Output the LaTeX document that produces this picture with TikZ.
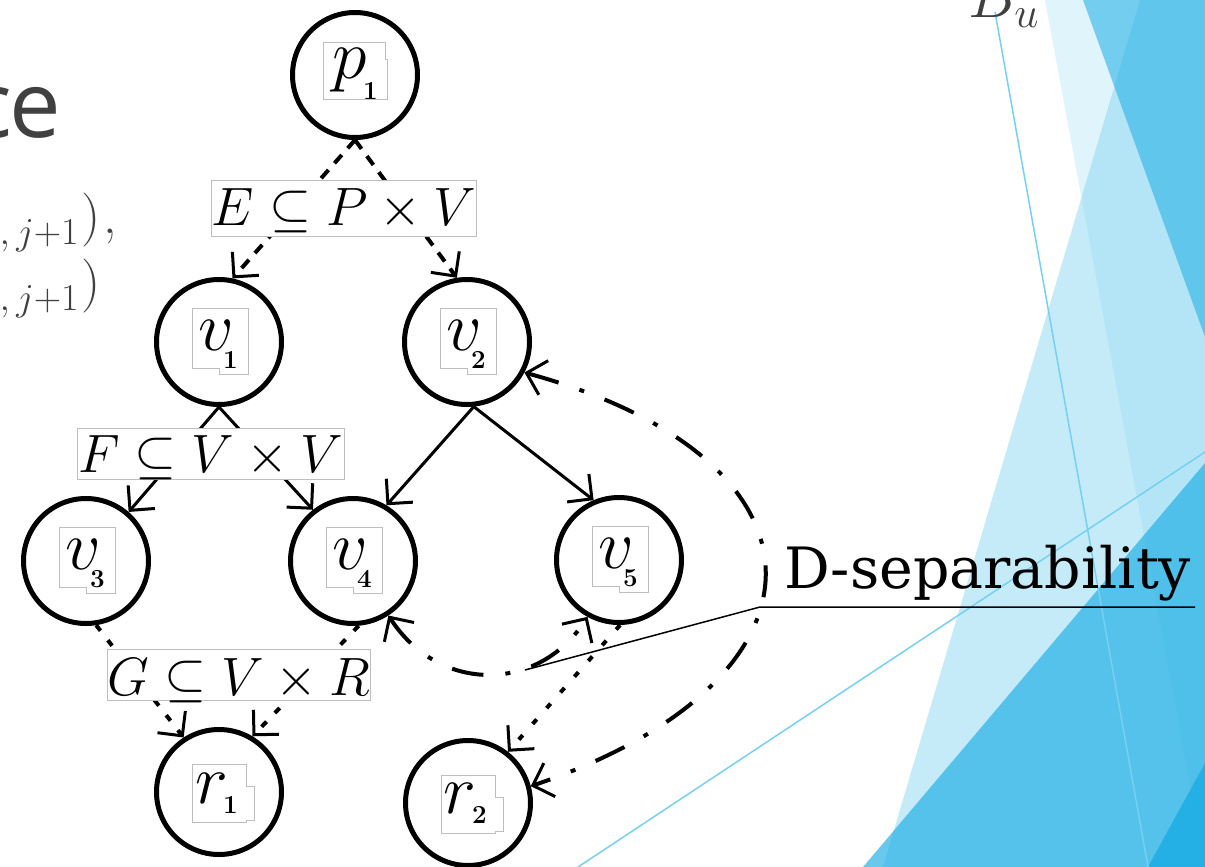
\RequirePackage{fix-cm}
\documentclass[tikz,border=0pt]{standalone}
\usepackage{fontspec}
\usetikzlibrary{arrows.meta}
\newfontfamily\slabfont{DejaVu Serif}
\newfontfamily\headfont{Open Sans}
\definecolor{inkgray}{RGB}{64,64,64}
\definecolor{facetA}{RGB}{122,209,239}
\definecolor{facetB}{RGB}{28,173,228}
\definecolor{facetLine}{RGB}{118,208,240}
\definecolor{framegray}{RGB}{190,190,190}

% letter with a small bold index set below its right part
\newcommand\idxlabel[4]{\makebox[#3][l]{\fontsize{70}{70}\selectfont$#1$}\raisebox{-#4}{\fontsize{26}{26}\selectfont\bfseries #2}}

\tikzset{
  >={Straight Barb[angle=90:25pt, line width=3pt]},
  vertex/.style={circle, draw, line width=5pt, minimum size=125pt, inner sep=0pt},
  letter/.style={anchor=base west, inner sep=0pt},
  setlabel/.style={draw=framegray, line width=1pt, fill=white, inner sep=0pt},
  solidedge/.style={->, line width=3pt},
  pedge/.style={->, line width=4pt, dash pattern=on 11pt off 9pt},
  redge/.style={->, line width=4pt, dash pattern=on 7pt off 12pt},
  dotedge/.style={->, line width=4pt, dash pattern=on 6pt off 15pt},
  arcedge/.style={<->, line width=4pt, dash pattern=on 32pt off 22pt on 5pt off 22pt},
  frameline/.style={draw=framegray, line width=1pt},
  vframe/.pic={\path[frameline] (-27,-34) -- (29,-34) -- (29,32) -- (0,32) -- (0,26) -- (-27,26) -- cycle;},
  pframe/.pic={\path[frameline] (-32,-32) -- (30,-32) -- (30,-15) -- (32,-15) -- (32,24) -- (-32,24) -- cycle;},
  rframe/.pic={\path[frameline] (-27,-28) -- (27,-28) -- (27,-6) -- (35,-6) -- (35,28) -- (27,28) -- (27,30) -- (-27,30) -- cycle;},
}

\begin{document}
\begin{tikzpicture}[x=1pt, y=-1pt]
\useasboundingbox (0,0) rectangle (1205,867);
\begin{scope}
\clip (0,0) rectangle (1205,867);

% facets on the right
\fill[facetA, opacity=0.44] (1140,0) -- (1205,0) -- (1205,867) -- (883,867) -- cycle;
\fill[facetA, opacity=0.24] (1045,0) -- (1205,0) -- (1205,867) -- cycle;
\fill[facetB, opacity=0.55] (1083,0) -- (1205,0) -- (1205,337) -- cycle;
\fill[facetB, opacity=0.66] (863,867) -- (1205,463) -- (1205,867) -- cycle;
\fill[facetB, opacity=0.85] (1148,867) -- (1205,763) -- (1205,867) -- cycle;
\draw[facetLine, line width=1.5pt] (995,12) -- (1148,867);
\draw[facetLine, line width=1.5pt] (578,867) -- (1205,452);

% slide text
\node[anchor=base east, inner sep=0pt, text=inkgray, font=\headfont\fontsize{92}{92}\selectfont] (title) at (61,137) {c\kern-3pt e};
\node[anchor=base east, inner sep=0pt, text=inkgray] (f1) at (101,233)
  {\fontsize{54}{54}\selectfont\raisebox{-11pt}{\fontsize{38}{38}\selectfont$b,j{+}1$}\kern3pt)\rlap{\kern3pt,}};
\node[anchor=base east, inner sep=0pt, text=inkgray] (f2) at (101,299)
  {\fontsize{54}{54}\selectfont\raisebox{-11pt}{\fontsize{38}{38}\selectfont$b,j{+}1$}\kern3pt)};
\node[anchor=base west, inner sep=0pt, text=inkgray] (bu) at (968,18) {\fontsize{62}{62}\selectfont$B_u$};

% vertices
\node[vertex] (p1) at (355,75) {};
\node[vertex] (v1) at (219,342) {};
\node[vertex] (v2) at (467,342) {};
\node[vertex] (v3) at (86,561) {};
\node[vertex] (v4) at (353,561) {};
\node[vertex] (v5) at (619,560) {};
\node[vertex] (r1) at (219,792) {};
\node[vertex] (r2) at (468,803) {};

% vertex names in their frames
\pic at (p1) {pframe};
\pic at (v1) {vframe};
\pic at (v2) {vframe};
\pic at (v3) {vframe};
\pic at (v4) {vframe};
\pic at (v5) {vframe};
\pic at (r1) {rframe};
\pic at (r2) {rframe};
\node[letter] (p1t) at ([shift={(-23,3)}]p1.center) {\idxlabel{p}{1}{31pt}{21pt}};
\node[letter] (v1t) at ([shift={(-21,8)}]v1.center) {\idxlabel{v}{1}{25pt}{18pt}};
\node[letter] (v2t) at ([shift={(-21,8)}]v2.center) {\idxlabel{v}{2}{25pt}{18pt}};
\node[letter] (v3t) at ([shift={(-21,8)}]v3.center) {\idxlabel{v}{3}{25pt}{18pt}};
\node[letter] (v4t) at ([shift={(-21,8)}]v4.center) {\idxlabel{v}{4}{25pt}{18pt}};
\node[letter] (v5t) at ([shift={(-21,8)}]v5.center) {\idxlabel{v}{5}{25pt}{18pt}};
\node[letter] (r1t) at ([shift={(-24,11)}]r1.center) {\idxlabel{r}{1}{28pt}{10pt}};
\node[letter] (r2t) at ([shift={(-25,10)}]r2.center) {\idxlabel{r}{2}{29pt}{10pt}};

% edges
\draw[pedge] (p1.south) -- (v1.78);
\draw[pedge] (p1.south) -- (v2.99);
\draw[solidedge] (v1.south) -- (v3.49);
\draw[solidedge] (v1.south) -- (v4.128);
\draw[solidedge] (v2.-84) -- (v4.59);
\draw[solidedge] (v2.-84) -- (v5.113);
\draw[redge] (v3.-81) -- (r1.123);
\draw[redge] (v4.-85) -- (r1.59);
\draw[dotedge] (v5.-89) -- (r2.52);

% dependence arcs
\draw[arcedge] (v4.-57) .. controls (440,695) and (540,692) .. (v5.-119);
\draw[arcedge] (v2.-28) .. controls (844,460) and (844,680) .. (r2.15);

% relation labels
\node[setlabel, minimum width=250pt, minimum height=56pt, text height=37pt, text depth=3pt] (Elab) at (344,208)
  {\fontsize{54}{54}\selectfont$E \subseteq P \times V$};
\node[setlabel, minimum width=267pt, minimum height=51pt, text height=38pt, text depth=1pt] (Flab) at (210.5,453.5)
  {\fontsize{54}{54}\selectfont$F \subseteq V \times V$};
\node[setlabel, minimum width=254pt, minimum height=51pt, text height=42pt, text depth=1pt] (Glab) at (239,674.5)
  {\fontsize{54}{54}\selectfont$G \subseteq V \times R$};

% callout
\node[anchor=base west, inner sep=0pt, font=\slabfont\fontsize{57}{57}\selectfont] (dsep) at (784,588) {D-separability};
\coordinate (ptr) at (525,670);
\coordinate (ulL) at (760,607);
\coordinate (ulR) at (1195,607);
\draw[line width=1.5pt] (ptr) -- (ulL) -- (ulR);
\end{scope}
\end{tikzpicture}
\end{document}
